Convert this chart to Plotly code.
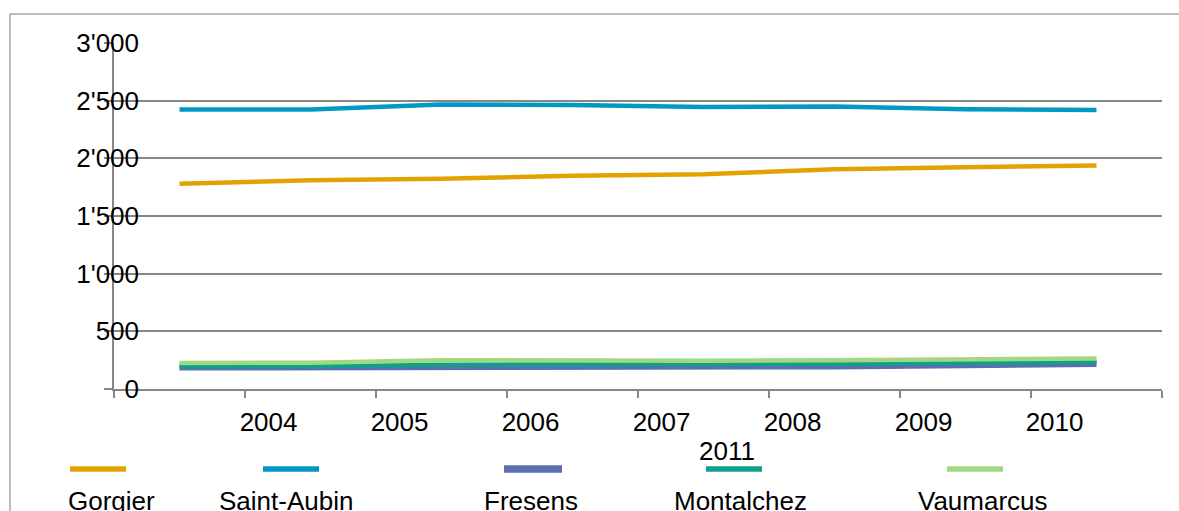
import plotly.graph_objects as go

# Population per commune, 2004-2011
years = ["2004", "2005", "2006", "2007", "2008", "2009", "2010", "2011"]
gorgier = [1779, 1811, 1822, 1848, 1863, 1905, 1923, 1938]
saint_aubin = [2423, 2423, 2466, 2463, 2446, 2449, 2426, 2420]
fresens = [188, 188, 192, 190, 192, 198, 208, 218]
montalchez = [196, 198, 210, 212, 212, 218, 228, 235]
vaumarcus = [225, 228, 250, 246, 244, 250, 258, 264]

series_names = ["Gorgier", "Saint-Aubin", "Fresens", "Montalchez", "Vaumarcus"]
series_values = [gorgier, saint_aubin, fresens, montalchez, vaumarcus]
series_colors = ["#E2A300", "#0099C6", "#5B6FAE", "#119E8A", "#A1D982"]
series_widths = [4.5, 4.5, 6.5, 4.5, 4.5]

y_ticks = [0, 500, 1000, 1500, 2000, 2500, 3000]
y_tick_text = ["0", "500", "1'000", "1'500", "2'000", "2'500", "3'000"]

FONT = "Liberation Sans, Arial, sans-serif"
FS = 26
GRID = "#878787"
W, H = 1179, 511
L, R, T, B = 114, 17, 43, 122
PW, PH = W - L - R, H - T - B

idx = list(range(len(years)))

fig = go.Figure()
# series drawn in order, later ones on top
for name, vals, col, w in zip(series_names, series_values, series_colors, series_widths):
    fig.add_trace(go.Scatter(x=idx, y=vals, mode="lines", name=name,
                             line=dict(color=col, width=w), showlegend=False))


def px_x(p):
    return (p - L) / PW


def px_y(p):
    return (H - B - p) / PH


# outer chart frame (left and top edges fall inside the canvas)
fx0, fx1 = px_x(10), px_x(1195)
fy0, fy1 = px_y(530), px_y(14)
shapes = [
    dict(type="path", xref="paper", yref="paper",
         path=f"M {fx0},{fy0} L {fx0},{fy1} L {fx1},{fy1}",
         line=dict(color="#A6A6A6", width=1.5), layer="below"),
]
annotations = []

# bottom legend: line sample on top, name beneath
legend_line_x = [(70, 126), (263, 319), (504, 562), (706, 762), (947, 1003)]
legend_text_x = [111, 286, 531, 740, 983]
for (x0, x1), tx, name, col, w in zip(legend_line_x, legend_text_x, series_names,
                                      series_colors, series_widths):
    shapes.append(dict(type="line", xref="paper", yref="paper",
                       x0=px_x(x0), x1=px_x(x1), y0=px_y(469), y1=px_y(469),
                       line=dict(color=col, width=w + 1)))
    annotations.append(dict(text=name, xref="paper", yref="paper",
                            x=px_x(tx), y=px_y(501), xanchor="center", yanchor="middle",
                            showarrow=False, font=dict(family=FONT, size=FS, color="#000")))

# last year label wraps onto a second row
annotations.append(dict(text=years[-1], xref="x", yref="paper", x=4.18, y=px_y(451),
                        xanchor="center", yanchor="middle", showarrow=False,
                        font=dict(family=FONT, size=FS, color="#000")))

fig.update_layout(
    width=W, height=H,
    margin=dict(l=L, r=R, t=T, b=B, pad=0),
    paper_bgcolor="white", plot_bgcolor="white",
    font=dict(family=FONT, size=FS, color="#000"),
    shapes=shapes, annotations=annotations,
    xaxis=dict(
        range=[-0.5, 7.5],
        tickmode="array",
        tickvals=[i + 0.68 for i in idx[:-1]],
        ticktext=years[:-1],
        ticks="", showgrid=False, zeroline=False,
        showline=True, linecolor=GRID, linewidth=1.5,
        minor=dict(tickmode="array", tickvals=[i - 0.5 for i in range(len(years) + 1)],
                   ticks="outside", ticklen=7, tickcolor=GRID, tickwidth=1.5, showgrid=False),
        ticklabelstandoff=9,
        tickfont=dict(family=FONT, size=FS, color="#000"),
        fixedrange=True,
    ),
    yaxis=dict(
        range=[0, 3000],
        tickmode="array", tickvals=y_ticks, ticktext=y_tick_text,
        ticks="outside", ticklen=8, tickcolor=GRID, tickwidth=1.5,
        showgrid=True, gridcolor=GRID, gridwidth=1.5,
        zeroline=False, showline=True, linecolor=GRID, linewidth=1.5,
        ticklabelstandoff=-40,
        tickfont=dict(family=FONT, size=FS, color="#000"),
        fixedrange=True,
    ),
)

fig.write_html("out.html")
